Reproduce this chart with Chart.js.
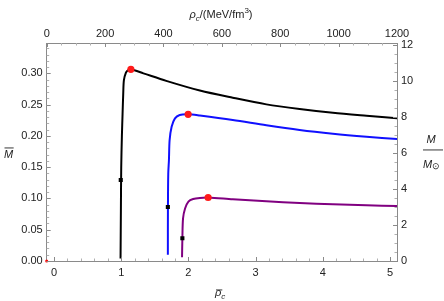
<!DOCTYPE html>
<html>
<head>
<meta charset="utf-8">
<script src="https://cdn.jsdelivr.net/npm/chart.js@4"></script>
<style>
  html, body { margin: 0; padding: 0; background: #fff; }
  #wrap { width: 444px; height: 301px; position: relative; }
</style>
</head>
<body>
<div id="wrap"><canvas id="chart"></canvas></div>
<script>
// curves: mass vs central density
const blackX = [0.99, 0.995, 1.0, 1.01, 1.02, 1.03, 1.04, 1.07, 1.10, 1.144, 1.33, 1.67, 2.17, 2.66, 3.16, 3.655, 4.15, 4.65, 5.11];
const blackY = [0.004, 0.08, 0.15, 0.20, 0.235, 0.268, 0.289, 0.301, 0.305, 0.3064, 0.300, 0.288, 0.2725, 0.261, 0.2504, 0.243, 0.237, 0.2323, 0.2283];

const blueX = [1.694, 1.695, 1.70, 1.71, 1.72, 1.75, 1.80, 1.87, 1.996, 2.17, 2.66, 3.16, 3.655, 4.15, 4.65, 5.11];
const blueY = [0.010, 0.08, 0.14, 0.161, 0.193, 0.2147, 0.228, 0.2334, 0.2345, 0.2325, 0.2254, 0.2169, 0.2094, 0.2035, 0.1987, 0.195];

const purpleX = [1.905, 1.91, 1.92, 1.95, 2.00, 2.07, 2.17, 2.293, 2.66, 3.16, 3.655, 4.15, 4.65, 5.11];
const purpleY = [0.006, 0.036, 0.068, 0.084, 0.095, 0.099, 0.1008, 0.1015, 0.0986, 0.0954, 0.0927, 0.0906, 0.089, 0.0879];

// maximum-mass points (red) and marked points (black squares)
const peakX = [1.144, 1.996, 2.293];
const peakY = [0.3064, 0.2345, 0.1015];
const markX = [0.993, 1.694, 1.91];
const markY = [0.1295, 0.0863, 0.0363];

// axis ranges / ticks
const xRange = [-0.109, 5.104];     // rho-bar_c
const yRange = [0, 0.3485];         // M-bar
const topRange = [0, 1200];         // rho_c in MeV/fm^3
const rightRange = [0, 12.11];      // M / M_sun
const originX = [0];                // red point at origin of top/right axes
const originY = [0];

const pts = (xs, ys) => xs.map((x, i) => ({ x, y: ys[i] }));

const GRAY = '#8a8a8a';
const FONT = "'Liberation Sans', Arial, sans-serif";

// inward frame ticks (major + minor), Mathematica-like
const frameTicks = {
  id: 'frameTicks',
  afterDraw(chart) {
    const { ctx, chartArea: a, scales } = chart;
    ctx.save();
    ctx.lineWidth = 1;
    const mark = (id, step, len, color) => {
      const s = scales[id];
      ctx.strokeStyle = color;
      ctx.beginPath();
      for (let v = Math.ceil(s.min / step - 1e-9) * step; v <= s.max + 1e-9; v += step) {
        const p = Math.round(s.getPixelForValue(v)) + 0.5;
        if (id === 'x') { ctx.moveTo(p, a.bottom); ctx.lineTo(p, a.bottom - len); }
        if (id === 'x2') { ctx.moveTo(p, a.top); ctx.lineTo(p, a.top + len); }
        if (id === 'y') { ctx.moveTo(a.left, p); ctx.lineTo(a.left + len, p); }
        if (id === 'y2') { ctx.moveTo(a.right, p); ctx.lineTo(a.right - len, p); }
      }
      ctx.stroke();
    };
    mark('x', 0.2, 2.5, '#b0b0b0'); mark('x', 1, 4, GRAY);
    mark('x2', 50, 2.5, '#b0b0b0'); mark('x2', 200, 4, GRAY);
    mark('y', 0.01, 2.5, '#b0b0b0'); mark('y', 0.05, 4, GRAY);
    mark('y2', 0.5, 2.5, '#b0b0b0'); mark('y2', 2, 4, GRAY);

    // axis labels
    ctx.fillStyle = '#222';
    ctx.textBaseline = 'alphabetic';
    const put = (txt, x, y, size, italic) => {
      ctx.font = `${italic ? 'italic ' : ''}${size}px ${FONT}`;
      ctx.fillText(txt, x, y);
      return ctx.measureText(txt).width;
    };
    const width = (txt, size, italic) => {
      ctx.font = `${italic ? 'italic ' : ''}${size}px ${FONT}`;
      return ctx.measureText(txt).width;
    };

    // top: rho_c/(MeV/fm^3)
    let tw = width('ρ', 11, true) + width('c', 8, true) + width('/(MeV/fm', 11) + width('3', 8) + width(')', 11);
    let x = 221 - tw / 2;
    x += put('ρ', x, 18, 11, true);
    x += put('c', x, 21, 8, true);
    x += put('/(MeV/fm', x, 18, 11);
    x += put('3', x, 13, 8);
    put(')', x, 18, 11);

    // bottom: rho-bar_c
    x = 215;
    let w = put('ρ', x, 295.5, 11, true);
    ctx.fillRect(x + 1, 289.5, w, 0.9);
    put('c', x + w, 298.5, 8, true);

    // left: M-bar
    w = put('M', 4, 157.5, 11, true);
    ctx.fillRect(4.5, 147.5, w, 0.9);

    // right: M / M_sun
    ctx.textAlign = 'center';
    put('M', 431, 142.5, 11, true);
    ctx.fillRect(423, 149.5, 20, 0.9);
    ctx.textAlign = 'left';
    w = put('M', 423, 167.5, 11, true);
    put('⊙', 423 + w, 168.5, 9);
    ctx.restore();
  }
};

const noGrid = { display: false, drawTicks: false };

new Chart(document.getElementById('chart'), {
  type: 'scatter',
  data: {
    datasets: [
      { data: pts(originX, originY), xAxisID: 'x2', yAxisID: 'y2', pointRadius: 1.5,
        backgroundColor: '#ff0000', borderWidth: 0, clip: false },
      { data: pts(peakX, peakY), pointRadius: 3.6, backgroundColor: '#ff1a1a', borderWidth: 0 },
      { data: pts(markX, markY), pointStyle: 'rect', pointRadius: 2.9, backgroundColor: '#000', borderWidth: 0 },
      { data: pts(blackX, blackY), showLine: true, borderColor: '#000', borderWidth: 2, pointRadius: 0, tension: 0.3 },
      { data: pts(blueX, blueY), showLine: true, borderColor: '#1010ff', borderWidth: 2, pointRadius: 0, tension: 0.3 },
      { data: pts(purpleX, purpleY), showLine: true, borderColor: '#800080', borderWidth: 2, pointRadius: 0, tension: 0.3 },
    ],
  },
  options: {
    responsive: true,
    maintainAspectRatio: false,
    animation: false,
    events: [],
    layout: { padding: 0 },
    plugins: { legend: { display: false }, tooltip: { enabled: false } },
    scales: {
      x: {
        type: 'linear', position: 'bottom', min: xRange[0], max: xRange[1],
        grid: noGrid, border: { display: true, color: GRAY },
        ticks: { stepSize: 1, includeBounds: false, padding: 5, maxRotation: 0, color: '#222',
                 font: { family: FONT, size: 11 }, callback: v => String(v) },
        afterFit: s => { s.height = 40; },
      },
      x2: {
        type: 'linear', position: 'top', min: topRange[0], max: topRange[1],
        grid: noGrid, border: { display: true, color: GRAY },
        ticks: { stepSize: 200, includeBounds: false, padding: 2, maxRotation: 0, color: '#222',
                 font: { family: FONT, size: 11 }, callback: v => String(v) },
        afterFit: s => { s.height = 43; },
      },
      y: {
        type: 'linear', position: 'left', min: yRange[0], max: yRange[1],
        grid: noGrid, border: { display: true, color: GRAY },
        ticks: { stepSize: 0.05, includeBounds: false, padding: 4, color: '#222',
                 font: { family: FONT, size: 11 }, callback: v => v.toFixed(2) },
        afterFit: s => { s.width = 46.7; },
      },
      y2: {
        type: 'linear', position: 'right', min: rightRange[0], max: rightRange[1],
        grid: noGrid, border: { display: true, color: GRAY },
        ticks: { stepSize: 2, includeBounds: false, padding: 4, color: '#222',
                 font: { family: FONT, size: 11 }, callback: v => String(v) },
        afterFit: s => { s.width = 47; },
      },
    },
  },
  plugins: [frameTicks],
});
</script>
</body>
</html>
